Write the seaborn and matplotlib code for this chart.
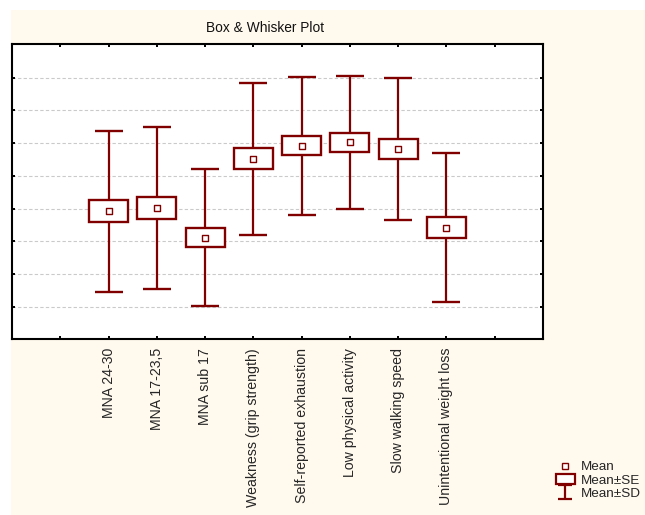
import numpy as np
import pandas as pd
import matplotlib
matplotlib.use("Agg")
import matplotlib.pyplot as plt
import seaborn as sns
from matplotlib.patches import Rectangle, Patch
from matplotlib.lines import Line2D
from matplotlib.path import Path

# Summary statistics per group (mean, standard error, standard deviation)
categories = [
    "MNA 24-30",
    "MNA 17-23,5",
    "MNA sub 17",
    "Weakness (grip strength)",
    "Self-reported exhaustion",
    "Low physical activity",
    "Slow walking speed",
    "Unintentional weight loss",
]
means = [3.92, 4.02, 3.12, 5.52, 5.92, 6.02, 5.82, 3.42]
se = [0.34, 0.34, 0.285, 0.32, 0.29, 0.29, 0.305, 0.325]
sd = [2.45, 2.47, 2.08, 2.31, 2.10, 2.02, 2.16, 2.27]

RED = "#800000"
CREAM = "#FFF9EE"

sns.set_theme(style="ticks")
plt.rcParams["font.family"] = ["Liberation Sans", "DejaVu Sans"]

df = pd.DataFrame({"category": categories, "mean": means, "se": se, "sd": sd})
df["pos"] = np.arange(1, len(df) + 1)

W, H = 645, 515
fig = plt.figure(figsize=(W / 100, H / 100), dpi=100, facecolor="white")
fig.patches.append(Rectangle((11 / W, 0), 1, 1 - 10 / H, transform=fig.transFigure,
                             facecolor=CREAM, edgecolor="none", zorder=-10))

left, right, top, bottom = 12, 543, 43.5, 338.5
ax = fig.add_axes([left / W, 1 - bottom / H, (right - left) / W, (bottom - top) / H])
ax.set_zorder(1)
ax.set_facecolor("white")

# Mean ± SD whiskers
ax.errorbar(df["pos"], df["mean"], yerr=df["sd"], fmt="none", ecolor=RED,
            elinewidth=1.6, capsize=10.3, capthick=1.7, zorder=2)
# Mean ± SE boxes
ax.bar(df["pos"], 2 * df["se"], bottom=df["mean"] - df["se"], width=0.81,
       facecolor="white", edgecolor=RED, linewidth=1.7, zorder=3)
# Mean markers
sns.scatterplot(data=df, x="pos", y="mean", marker="s", s=24, color="white",
                edgecolor=RED, linewidth=1.0, zorder=4, ax=ax, legend=False)

ax.set_xlim(-1, 10)
ax.set_ylim(0.04, 9.04)
ax.set_xticks(range(0, 10))
ax.set_xticklabels([""] + categories + [""], rotation=90, fontsize=10.2)
ax.set_yticks(range(1, 9))
ax.set_yticklabels([])
ax.set_xlabel("")
ax.set_ylabel("")
ax.tick_params(direction="in", top=True, right=True, length=2.5, width=1.4,
               color="black", pad=6.8)
ax.yaxis.grid(True, linestyle=(0, (3, 2)), color="#CACACA", linewidth=0.8)
ax.xaxis.grid(False)
ax.set_axisbelow(True)
for s in ax.spines.values():
    s.set_visible(True)
    s.set_color("black")
    s.set_linewidth(1.5)

fig.text(265 / W, 1 - 27.5 / H, "Box & Whisker Plot", ha="center", va="center",
         fontsize=9.9, color="#111111")

# Legend
cap_marker = Path([(-1, 1), (1, 1), (0, 1), (0, -1), (-1, -1), (1, -1)],
                  [Path.MOVETO, Path.LINETO, Path.MOVETO, Path.LINETO,
                   Path.MOVETO, Path.LINETO])
handles = [
    Line2D([], [], marker="s", linestyle="none", markerfacecolor="white",
           markeredgecolor=RED, markersize=4.5, markeredgewidth=1),
    Patch(facecolor="white", edgecolor=RED, linewidth=1.6),
    Line2D([], [], marker=cap_marker, linestyle="none", color=RED,
           markersize=10, markeredgewidth=1.6),
]
fig.legend(handles, ["Mean", "Mean±SE", "Mean±SD"], loc="upper left",
           bbox_to_anchor=(556 / W, 1 - 461 / H), frameon=False, fontsize=9.7,
           borderpad=0, borderaxespad=0, labelspacing=0.05, handlelength=1.4,
           handleheight=0.7, handletextpad=0.45)

fig.savefig("out.png", dpi=100, facecolor=fig.get_facecolor())
